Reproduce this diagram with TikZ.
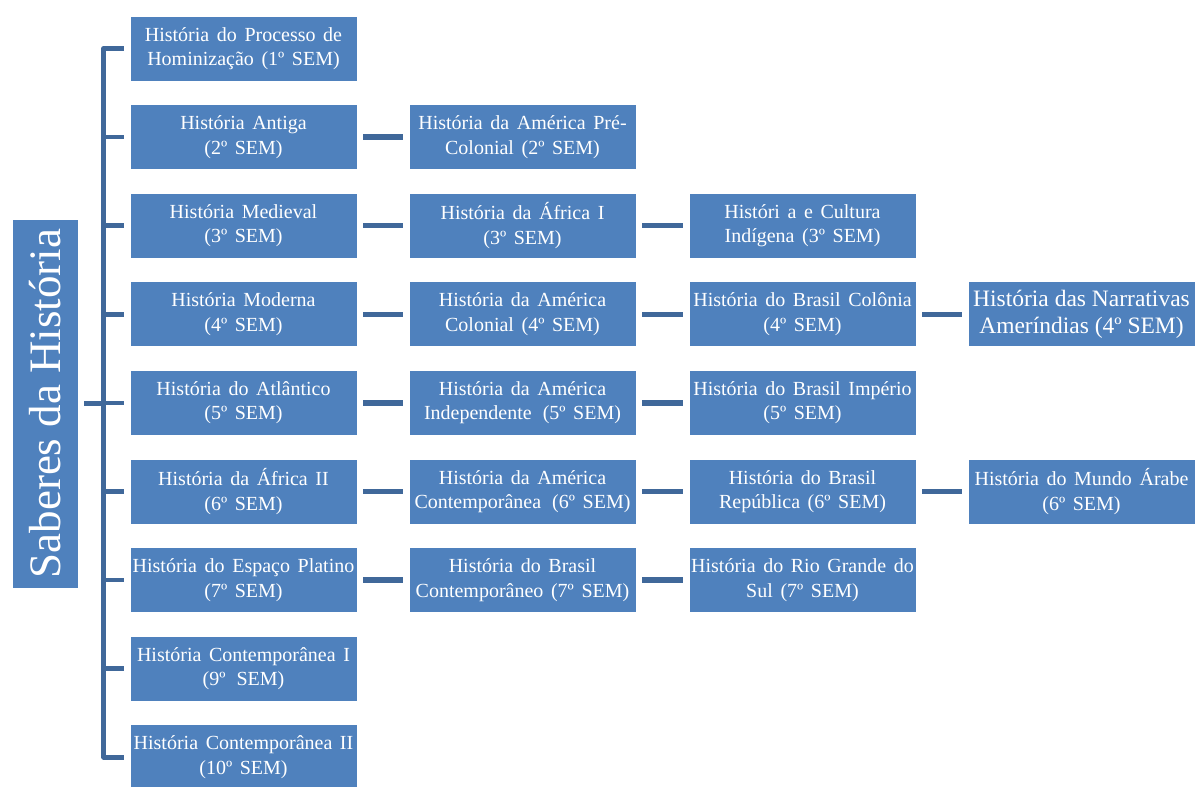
\documentclass[tikz,border=0pt]{standalone}
\usepackage{fontspec}
\setmainfont{Liberation Serif}
\definecolor{boxblue}{RGB}{79,129,189}
\definecolor{lineblue}{RGB}{64,104,154}
\newcommand{\fontemateria}{\fontsize{20}{24.5}\selectfont\spaceskip=0.38em\relax}

\begin{document}
\begin{tikzpicture}[x=1pt,y=-1pt,
		materia/.style={fill=boxblue,draw=white,line width=0.8pt,text=white,align=center,minimum width=227pt,minimum height=65pt,inner sep=1pt,font=\fontemateria},
		tronco/.style={draw=lineblue,line width=4.5pt},
		liga/.style={draw=lineblue,line width=5.5pt,shorten <=6pt,shorten >=6pt}]
	\useasboundingbox (0,0) rectangle (1195,787);
	\node[materia,rotate=90,minimum width=369pt,minimum height=66pt,font=\fontsize{45}{54}\selectfont] (raiz) at (45,403.5) {Saberes da História};
	\node[materia] (a1) at (243.5,48.5) {História do Processo de\\Hominização (1º SEM)};
	\node[materia] (a2) at (243.5,137.1) {História Antiga\\(2º SEM)};
	\node[materia] (a3) at (243.5,225.7) {História Medieval\\(3º SEM)};
	\node[materia] (a4) at (243.5,314.3) {História Moderna\\(4º SEM)};
	\node[materia] (a5) at (243.5,402.9) {História do Atlântico\\(5º SEM)};
	\node[materia] (a6) at (243.5,491.5) {História da África II\\(6º SEM)};
	\node[materia] (a7) at (243.5,580.1) {História do Espaço Platino\\(7º SEM)};
	\node[materia] (a8) at (243.5,668.7) {História Contemporânea I\\(9º\hspace{0.55em}SEM)};
	\node[materia] (a9) at (243.5,757.3) {História Contemporânea II\\(10º SEM)};
	\node[materia] (b2) at (522.5,137.1) {História da América Pré-\\Colonial (2º SEM)};
	\node[materia] (b3) at (522.5,225.7) {História da África I\\(3º SEM)};
	\node[materia] (b4) at (522.5,314.3) {História da América\\Colonial (4º SEM)};
	\node[materia] (b5) at (522.5,402.9) {História da América\\Independente\hspace{0.55em}(5º SEM)};
	\node[materia] (b6) at (522.5,491.5) {História da América\\Contemporânea\hspace{0.55em}(6º SEM)};
	\node[materia] (b7) at (522.5,580.1) {História do Brasil\\Contemporâneo (7º SEM)};
	\node[materia] (c3) at (802.5,225.7) {Históri a e Cultura\\Indígena (3º SEM)};
	\node[materia] (c4) at (802.5,314.3) {História do Brasil Colônia\\(4º SEM)};
	\node[materia] (c5) at (802.5,402.9) {História do Brasil Império\\(5º SEM)};
	\node[materia] (c6) at (802.5,491.5) {História do Brasil\\República (6º SEM)};
	\node[materia] (c7) at (802.5,580.1) {História do Rio Grande do\\Sul (7º SEM)};
	\node[materia,font=\fontsize{23.5}{27}\selectfont] (d4) at (1081.5,314.3) {História das Narrativas\\Ameríndias (4º SEM)};
	\node[materia] (d6) at (1081.5,491.5) {História do Mundo Árabe\\(6º SEM)};

	\draw[tronco] ([xshift=6pt]raiz.south) -- ([xshift=26pt]raiz.south);
	\draw[tronco,line join=round] ([xshift=-6pt]a1.west) -- ([xshift=-26pt]a1.west) -- ([xshift=-26pt]a9.west) -- ([xshift=-6pt]a9.west);
	\foreach \i in {2,...,8}
		\draw[tronco] ([xshift=-6pt]a\i.west) -- ([xshift=-26pt]a\i.west);
	\foreach \i in {2,...,7}
		\draw[liga] (a\i.east) -- (b\i.west);
	\foreach \i in {3,...,7}
		\draw[liga] (b\i.east) -- (c\i.west);
	\draw[liga] (c4.east) -- (d4.west);
	\draw[liga] (c6.east) -- (d6.west);
\end{tikzpicture}
\end{document}
